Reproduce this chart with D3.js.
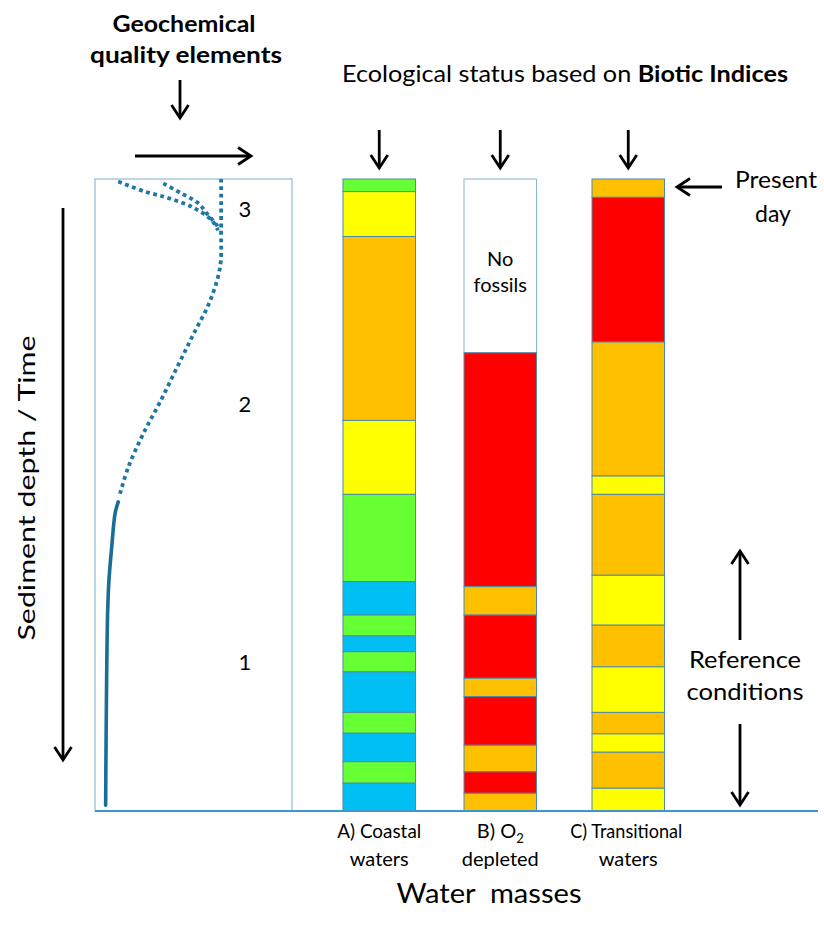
<!DOCTYPE html>
<html><head><meta charset="utf-8">
<script src="https://cdn.jsdelivr.net/npm/d3@7"></script>
<style>body{margin:0;background:#fff}svg{display:block}</style>
</head><body>
<svg id="c" width="824" height="933"></svg>
<script>
// ---------- DATA ----------
const statusLevels = ["High", "Good", "Moderate", "Poor", "Bad", "None"];
const statusColors = ["#00BFF3", "#66FF33", "#FFFF00", "#FFC000", "#FF0000", "#FFFFFF"];

const waterMasses = ["A", "B", "C"];
// depth in % of core (0 = present day / top, 100 = bottom)
const coastalBounds = [0, 2.0, 9.1, 38.2, 49.9, 63.7, 69.0, 72.3, 74.8, 78.0, 84.4, 87.7, 92.2, 95.6, 100];
const coastalStatus = ["Good", "Moderate", "Poor", "Moderate", "Good", "High", "Good", "High", "Good", "High", "Good", "High", "Good", "High"];
const o2Bounds = [0, 27.5, 64.5, 69.0, 79.0, 81.9, 89.6, 93.8, 97.2, 100];
const o2Status = ["None", "Bad", "Poor", "Bad", "Poor", "Bad", "Poor", "Bad", "Poor"];
const transBounds = [0, 2.9, 25.8, 47.0, 49.9, 62.7, 70.6, 77.2, 84.4, 87.8, 90.7, 96.4, 100];
const transStatus = ["Poor", "Bad", "Poor", "Moderate", "Poor", "Moderate", "Poor", "Moderate", "Poor", "Moderate", "Poor", "Moderate"];

// geochemical profile: [depth %, value %]
const geoSolid = [[51.1, 11.8], [52.9, 10.2], [58.2, 8.5], [63.4, 7.1], [68.7, 6.4], [79.3, 5.9], [89.8, 5.6], [99.1, 5.4]];
const geoDotted = [[0, 64.0], [8.1, 64.0], [13.9, 63.5], [19.3, 58.4], [24.6, 49.9], [29.9, 41.5], [35.3, 33.0], [40.3, 24.5], [45.6, 16.9], [49.8, 12.7]];
const geoBranch1 = [[0.4, 11.8], [2.0, 25.4], [3.0, 37.1], [4.4, 49.1], [6.5, 59.2], [8.1, 62.4]];
const geoBranch2 = [[0.7, 34.7], [2.3, 44.0], [3.8, 52.3], [5.7, 57.4], [7.3, 61.8], [8.1, 63.0]];

const stageLabels = ["3", "2", "1"];
const stageDepths = [4.9, 35.8, 76.6];

// ---------- LAYOUT ----------
const svg = d3.select("#c");
const FONT = "Lato, 'Open Sans', 'DejaVu Sans', sans-serif";
const coreTop = 179, coreBottom = 811;
const y = d3.scaleLinear().domain([0, 100]).range([coreTop, coreBottom]);
const xGeo = d3.scaleLinear().domain([0, 100]).range([95, 292]);
const color = d3.scaleOrdinal().domain(statusLevels).range(statusColors);
const colLeft = d3.scaleOrdinal().domain(waterMasses).range([343, 464, 592]);
const colW = 72.5;

const columns = [
  {key: "A", bounds: coastalBounds, status: coastalStatus},
  {key: "B", bounds: o2Bounds, status: o2Status},
  {key: "C", bounds: transBounds, status: transStatus}
];

// geochem box
svg.append("rect").attr("x", xGeo(0)).attr("y", y(0)).attr("width", xGeo(100) - xGeo(0)).attr("height", y(100) - y(0))
  .attr("fill", "none").attr("stroke", "#8fbdd8").attr("stroke-width", 1.2);

// columns
columns.forEach(c => {
  const segs = c.status.map((s, i) => ({s, d0: c.bounds[i], d1: c.bounds[i + 1]}));
  const g = svg.append("g");
  g.selectAll("rect").data(segs).join("rect")
    .attr("x", colLeft(c.key)).attr("width", colW)
    .attr("y", d => y(d.d0)).attr("height", d => y(d.d1) - y(d.d0))
    .attr("fill", d => color(d.s))
    .attr("stroke", d => d.s === "None" ? "#86b6d2" : "#4f8aa8").attr("stroke-width", 1);
});

// baseline
svg.append("line").attr("x1", 95).attr("x2", 818).attr("y1", y(100)).attr("y2", y(100))
  .attr("stroke", "#3a98cf").attr("stroke-width", 2);

// geochem curves
const line = d3.line().x(d => xGeo(d[1])).y(d => y(d[0])).curve(d3.curveCatmullRom.alpha(0.5));
svg.append("path").attr("d", line(geoSolid)).attr("fill", "none").attr("stroke", "#186e98")
  .attr("stroke-width", 3.6).attr("stroke-linecap", "round");
[geoDotted, geoBranch1, geoBranch2].forEach(arr => {
  svg.append("path").attr("d", line(arr)).attr("fill", "none").attr("stroke", "#1d76a3")
    .attr("stroke-width", 3.8).attr("stroke-dasharray", "3.8,3.6");
});

// arrows
function arrow(x1, y1, x2, y2, len = 13, half = 8.5, w = 2.8) {
  const a = Math.atan2(y2 - y1, x2 - x1);
  svg.append("line").attr("x1", x1).attr("y1", y1).attr("x2", x2 - Math.cos(a) * 1).attr("y2", y2 - Math.sin(a) * 1)
    .attr("stroke", "#000").attr("stroke-width", w);
  const bx = x2 - Math.cos(a) * len, by = y2 - Math.sin(a) * len;
  const px = -Math.sin(a) * half, py = Math.cos(a) * half;
  svg.append("polyline").attr("points", `${bx + px},${by + py} ${x2},${y2} ${bx - px},${by - py}`)
    .attr("fill", "none").attr("stroke", "#000").attr("stroke-width", w).attr("stroke-linejoin", "miter");
}
arrow(180, 80, 180, 118);
arrow(135, 156, 251, 156);
columns.forEach(c => arrow(colLeft(c.key) + colW / 2, 130, colLeft(c.key) + colW / 2, 168));
arrow(63, 208, 63, 760);
arrow(722, 187, 677, 187);
arrow(740, 640, 740, 551);
arrow(740, 724, 740, 805);

// text helper
function txt(x, yy, s, size, opts = {}) {
  const t = svg.append("text").attr("x", x).attr("y", yy).attr("font-family", FONT)
    .attr("font-size", size).attr("fill", "#000").attr("text-anchor", opts.anchor || "middle")
    .attr("font-weight", opts.bold ? "bold" : "normal");
  if (opts.transform) t.attr("transform", opts.transform);
  if (s !== null) t.text(s);
  if (opts.len) t.attr("textLength", opts.len).attr("lengthAdjust", "spacingAndGlyphs");
  return t;
}

txt(184, 32, "Geochemical", 23, {bold: true, len: 143});
txt(186, 63, "quality elements", 23, {bold: true, len: 192});

const eco = txt(342, 82, null, 23, {anchor: "start", len: 446});
eco.append("tspan").text("Ecological status based on ");
eco.append("tspan").attr("font-weight", "bold").text("Biotic Indices");

txt(776, 188, "Present", 23, {len: 82});
txt(773, 222, "day", 23);
txt(745, 668, "Reference", 23, {len: 112});
txt(745, 700, "conditions", 23, {len: 117});

// stage numbers
stageLabels.forEach((s, i) => txt(245, y(stageDepths[i]) + 7, s, 22));

// no fossils
const bx = colLeft("B") + colW / 2;
txt(bx, 266, "No", 20);
txt(bx, 292, "fossils", 20);

// water mass labels
const aX = colLeft("A") + colW / 2, cX = colLeft("C") + colW / 2;
txt(aX, 838, "A) Coastal", 20, {len: 84});
txt(aX, 866, "waters", 20);
const b1 = txt(bx, 838, null, 20);
b1.append("tspan").text("B) O");
b1.append("tspan").attr("font-size", 13).attr("dy", 5).text("2");
txt(bx, 866, "depleted", 20);
txt(cX - 2, 838, "C) Transitional", 20, {len: 112});
txt(cX, 866, "waters", 20);

txt(489, 903, "Water  masses", 26, {len: 185}).style("white-space", "pre");

txt(0, 0, "Sediment depth / Time", 23, {transform: "translate(35,488) rotate(-90)", len: 305});
</script>
</body></html>
